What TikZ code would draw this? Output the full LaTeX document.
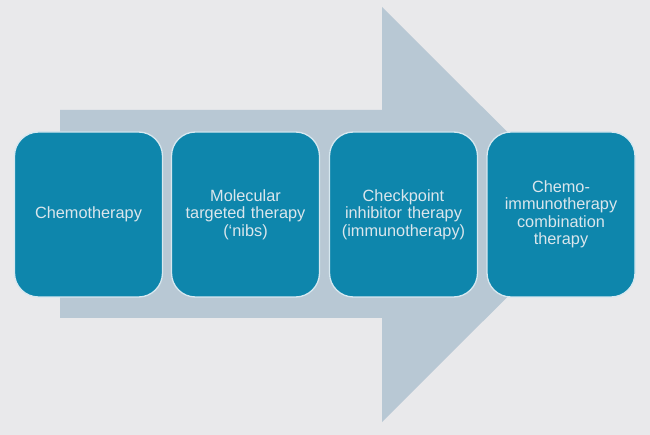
\documentclass[tikz,border=0pt]{standalone}
\usepackage{fontspec}
\setmainfont{Liberation Sans}
\definecolor{bgc}{RGB}{233,233,235}
\definecolor{arrowc}{RGB}{184,200,212}
\definecolor{boxc}{RGB}{14,134,172}
\definecolor{boxedge}{RGB}{215,232,240}
\definecolor{txtc}{RGB}{218,230,236}
\tikzset{
  stagebox/.style={draw=boxedge, line width=1.3pt, fill=boxc, rounded corners=24pt,
    minimum width=148pt, minimum height=165pt, inner sep=4pt,
    text=txtc, font=\fontsize{16.3}{17.5}\selectfont, align=center, text width=140pt}
}
\begin{document}
\begin{tikzpicture}[x=1pt,y=-1pt]
\fill[bgc] (0,0) rectangle (650,435);
\useasboundingbox (0,0) rectangle (650,435);
\fill[arrowc] (60,110) -- (382,110) -- (382,7) -- (590,214.5) -- (382,422) -- (382,318) -- (60,318) -- cycle;
\node[stagebox] (b1) at (88.5,214.5) {Chemotherapy};
\node[stagebox] (b2) at (245.5,214.5) {Molecular\\targeted therapy\\(‘nibs)};
\node[stagebox] (b3) at (403.5,214.5) {Checkpoint\\inhibitor therapy\\(immunotherapy)};
\node[stagebox] (b4) at (561,214.5) {Chemo-\\immunotherapy\\combination\\therapy};
\end{tikzpicture}
\end{document}
